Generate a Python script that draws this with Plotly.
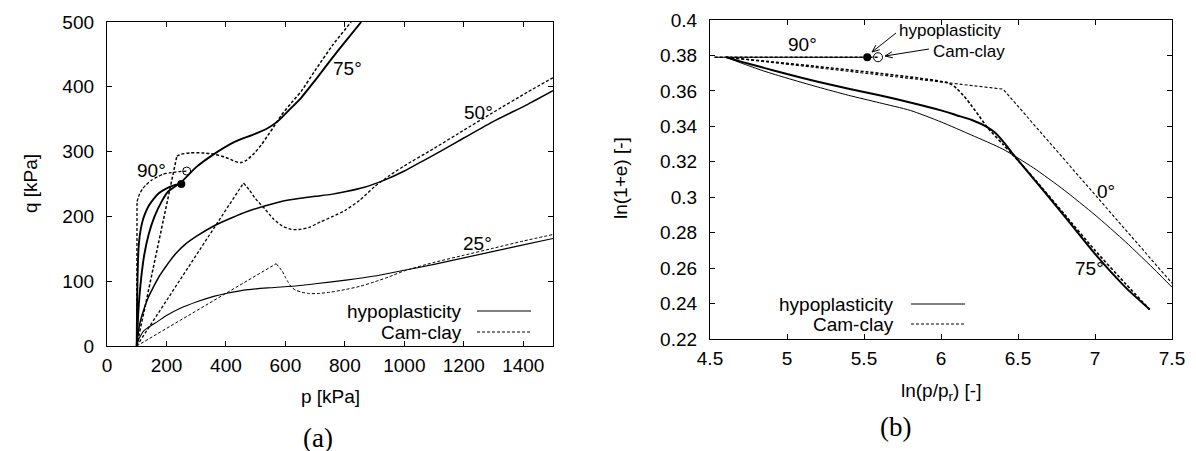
import math
import plotly.graph_objects as go

W, H = 1196, 451
def px(x): return x / W
def py(y): return 1 - y / H

# ---------------- (a) q-p data ----------------
p25_h = [100, 105, 112, 125, 150, 171, 200, 250, 300, 362, 400, 474, 550, 642, 700, 810, 900, 978, 1100, 1200, 1300, 1400, 1500]
q25_h = [0, 8, 15, 24, 32, 38, 47, 59, 68, 77, 81, 87, 90, 93, 96, 102, 108, 115, 126, 136, 146, 156, 166]
p25_c = [100, 569, 590, 600, 610, 620, 635, 655, 680, 710, 750, 800, 850, 900, 950, 1000, 1100, 1200, 1300, 1400, 1500]
q25_c = [0, 127, 115, 106, 98, 91, 86, 83, 81, 81, 83, 87, 92, 99, 107, 116, 129, 140, 151, 162, 172]

p50_h = [100, 105, 112, 121, 138, 155, 175, 194, 211, 230, 261, 300, 362, 420, 474, 530, 586, 650, 700, 754, 800, 866, 933, 1000, 1060, 1124, 1200, 1297, 1415, 1500]
q50_h = [0, 20, 38, 52, 74, 90, 107, 120, 131, 142, 156, 169, 186, 198, 208, 216, 223, 228, 231, 234, 238, 245, 256, 270, 285, 301, 321, 346, 373, 394]
p50_c = [100, 459, 480, 500, 530, 560, 590, 620, 650, 680, 720, 760, 800, 850, 900, 950, 1000, 1100, 1200, 1297, 1415, 1500]
q50_c = [0, 251.5, 240, 227, 212, 196, 185, 180, 180, 183, 192, 200, 209, 225, 246, 263, 278, 305, 333, 360, 392, 414]

p75_h = [100, 104, 108, 115, 125, 140, 160, 185, 205, 250, 300, 356, 429, 496, 540, 575, 610, 653, 700, 750, 800, 855]
q75_h = [0, 40, 70, 105, 140, 172, 200, 224, 238, 253, 276, 295, 315, 327, 336, 347, 363, 383, 410, 440, 469, 500]
p75_c = [100, 235, 250, 280, 320, 360, 400, 430, 450, 470, 496, 520, 541, 565, 586, 620, 653, 704, 760, 821]
q75_c = [0, 293, 296, 298, 298, 296, 291, 285, 283, 287, 298, 311, 325, 341, 356, 375, 393, 428, 465, 500]

p90_h = [100, 101, 103, 106, 110, 118, 127, 140, 155, 175, 199, 225, 250]
q90_h = [0, 60, 110, 150, 170, 190, 203, 216, 226, 236, 243, 248, 250]
p90_c = [100, 101, 110, 120, 132, 150, 170, 188, 210, 240, 268]
q90_c = [0, 223, 235, 243, 249, 256, 261, 265, 267, 269, 270]

# ---------------- (b) ln(1+e) - ln(p/pr) data ----------------
v0_h = [4.605, 4.7, 4.85, 5.0, 5.2, 5.4, 5.6, 5.8, 6.0, 6.2, 6.4, 6.6, 6.8, 7.0, 7.2, 7.4, 7.5]
w0_h = [0.379, 0.3758, 0.3712, 0.3672, 0.3622, 0.3575, 0.3533, 0.3490, 0.3425, 0.3350, 0.3272, 0.3166, 0.3040, 0.2900, 0.2747, 0.2580, 0.2492]
v0_c = [4.605, 6.403, 7.5]
w0_c = [0.379, 0.361, 0.2515]

v75_h = [4.605, 4.7, 4.85, 5.0, 5.2, 5.4, 5.6, 5.8, 6.0, 6.1, 6.2, 6.3, 6.35, 6.4, 6.46, 6.6, 6.8, 7.0, 7.2, 7.355]
w75_h = [0.379, 0.3765, 0.3730, 0.3695, 0.3652, 0.3612, 0.3575, 0.3535, 0.3490, 0.3463, 0.3436, 0.3396, 0.3365, 0.3318, 0.3252, 0.3105, 0.2895, 0.2680, 0.2490, 0.2367]
v75_c = [4.605, 6.05, 6.1, 6.15, 6.2, 6.25, 6.3, 6.4, 6.46, 6.6, 6.8, 7.0, 7.2, 7.355]
w75_c = [0.379, 0.3644, 0.3615, 0.3570, 0.3515, 0.3455, 0.3395, 0.3300, 0.3245, 0.3110, 0.2905, 0.2700, 0.2510, 0.2367]

v90_h = [4.53, 5.521]
w90_h = [0.379, 0.379]
v90_c = [4.53, 5.591]
w90_c = [0.379, 0.379]

xt_a = [0, 200, 400, 600, 800, 1000, 1200, 1400]
yt_a = [0, 100, 200, 300, 400, 500]
xt_b = [4.5, 5, 5.5, 6, 6.5, 7, 7.5]
xt_b_text = ["4.5", "5", "5.5", "6", "6.5", "7", "7.5"]
yt_b = [0.22, 0.24, 0.26, 0.28, 0.30, 0.32, 0.34, 0.36, 0.38, 0.40]
yt_b_text = ["0.22", "0.24", "0.26", "0.28", "0.3", "0.32", "0.34", "0.36", "0.38", "0.4"]

DASH = "3px,2px"
fig = go.Figure()

def add(x, y, xa, ya, dash, width):
    fig.add_trace(go.Scatter(x=x, y=y, mode="lines", xaxis=xa, yaxis=ya,
                             line=dict(color="black", width=width, dash=dash, shape="spline", smoothing=0.6),
                             showlegend=False, hoverinfo="skip"))

def addl(x, y, xa, ya, dash, width):
    fig.add_trace(go.Scatter(x=x, y=y, mode="lines", xaxis=xa, yaxis=ya,
                             line=dict(color="black", width=width, dash=dash),
                             showlegend=False, hoverinfo="skip"))

# (a)
add(p25_h, q25_h, "x", "y", "solid", 1.1)
addl(p25_c[:2], q25_c[:2], "x", "y", DASH, 1.0)
add(p25_c[1:], q25_c[1:], "x", "y", DASH, 1.0)
add(p50_h, q50_h, "x", "y", "solid", 1.5)
addl(p50_c[:2], q50_c[:2], "x", "y", DASH, 1.3)
add(p50_c[1:], q50_c[1:], "x", "y", DASH, 1.3)
add(p75_h, q75_h, "x", "y", "solid", 1.9)
addl(p75_c[:2], q75_c[:2], "x", "y", DASH, 1.5)
add(p75_c[1:], q75_c[1:], "x", "y", DASH, 1.5)
add(p90_h, q90_h, "x", "y", "solid", 1.9)
addl(p90_c[:2], q90_c[:2], "x", "y", DASH, 1.3)
add(p90_c[1:], q90_c[1:], "x", "y", DASH, 1.3)
fig.add_trace(go.Scatter(x=[p90_h[-1]], y=[q90_h[-1]], mode="markers", xaxis="x", yaxis="y",
                         marker=dict(color="black", size=8, symbol="circle"), showlegend=False, hoverinfo="skip"))
fig.add_trace(go.Scatter(x=[p90_c[-1]], y=[q90_c[-1]], mode="markers", xaxis="x", yaxis="y",
                         marker=dict(color="black", size=8, symbol="circle-open", line=dict(width=1)),
                         showlegend=False, hoverinfo="skip"))

# (b)
add(v0_h, w0_h, "x2", "y2", "solid", 1.0)
addl(v0_c, w0_c, "x2", "y2", DASH, 1.1)
add(v75_h, w75_h, "x2", "y2", "solid", 2.0)
add(v75_c, w75_c, "x2", "y2", DASH, 1.6)
addl(v90_c, w90_c, "x2", "y2", DASH, 1.4)
addl(v90_h, w90_h, "x2", "y2", "solid", 1.2)
fig.add_trace(go.Scatter(x=[v90_h[-1]], y=[w90_h[-1]], mode="markers", xaxis="x2", yaxis="y2",
                         marker=dict(color="black", size=8, symbol="circle"), showlegend=False, hoverinfo="skip"))
fig.add_trace(go.Scatter(x=[v90_c[-1]], y=[w90_c[-1]], mode="markers", xaxis="x2", yaxis="y2",
                         marker=dict(color="black", size=9, symbol="circle-open", line=dict(width=1)),
                         showlegend=False, hoverinfo="skip"))

FONT = "Liberation Sans, Arial, Helvetica, sans-serif"
SERIF = "Liberation Serif, DejaVu Serif, serif"

def axis(domain, rng, tv, tt=None, anchor=None, standoff=8):
    d = dict(domain=domain, range=rng, tickvals=tv, showline=True, linecolor="black", linewidth=1.3,
             mirror="ticks", ticks="inside", ticklen=5, tickwidth=1, tickcolor="black",
             showgrid=False, zeroline=False, automargin=False, anchor=anchor,
             tickfont=dict(family=FONT, size=19, color="black"),
             ticklabelstandoff=standoff, ticklabeloverflow="allow")
    if tt is not None:
        d["ticktext"] = tt
    return d

fig.update_layout(
    width=W, height=H, margin=dict(l=0, r=0, t=0, b=0),
    paper_bgcolor="white", plot_bgcolor="white", showlegend=False,
    xaxis=axis([px(99), px(545)], [0, 1500], xt_a, anchor="y", standoff=2),
    yaxis=axis([py(338), py(14)], [0, 500], yt_a, anchor="x", standoff=8),
    xaxis2=axis([px(702), px(1164)], [4.5, 7.5], xt_b, xt_b_text, anchor="y2", standoff=2),
    yaxis2=axis([py(331), py(12)], [0.21999, 0.40001], yt_b, yt_b_text, anchor="x2", standoff=8),
)

ann = []
def text(x, y, s, size=19, family=FONT, angle=0, xanchor="center"):
    ann.append(dict(x=px(x), y=py(y), xref="paper", yref="paper", text=s, showarrow=False,
                    font=dict(family=family, size=size, color="black"), textangle=angle,
                    xanchor=xanchor, yanchor="middle"))

# axis titles
text(22, 176, "q [kPa]", angle=-90)
text(322, 388, "p [kPa]")
text(310, 430, "(a)", size=27, family=SERIF)
text(612, 170, "ln(1+e) [-]", angle=-90)
text(933, 384, "ln(p/p<sub>r</sub>) [-]")
text(888, 419, "(b)", size=27, family=SERIF)

# curve labels (a)
text(143, 163, "90°")
text(339, 60, "75°")
text(470, 105, "50°")
text(469, 235, "25°")
# curve labels (b)
text(795, 36, "90°")
text(1098, 183, "0°")
text(1081, 260, "75°")

# legends
text(456, 303, "hypoplasticity", xanchor="right")
text(456, 324, "Cam-clay", xanchor="right")
text(888, 296, "hypoplasticity", xanchor="right")
text(888, 316, "Cam-clay", xanchor="right")

# pointer texts (b)
text(889, 22, "hypoplasticity", size=17, xanchor="left")
text(923, 43, "Cam-clay", size=17, xanchor="left")
fig.update_layout(annotations=ann)

shapes = []
def seg(x0, x1, y, dash):
    shapes.append(dict(type="line", xref="paper", yref="paper", x0=px(x0), x1=px(x1), y0=py(y), y1=py(y),
                       line=dict(color="black", width=1, dash=dash)))
seg(469, 523, 303, "solid")
seg(469, 523, 324, DASH)
seg(903, 957, 296, "solid")
seg(903, 957, 316, DASH)

# arrows (pixel geometry -> paper)
def arrow(tx, ty, hx, hy, L=8, ang=22):
    shapes.append(dict(type="line", xref="paper", yref="paper", x0=px(tx), y0=py(ty), x1=px(hx), y1=py(hy),
                       line=dict(color="black", width=1)))
    a = math.atan2(ty - hy, tx - hx)
    pts = []
    for s in (-1, 1):
        b = a + s * math.radians(ang)
        pts.append((hx + L * math.cos(b), hy + L * math.sin(b)))
    path = "M {} {} L {} {} L {} {}".format(px(pts[0][0]), py(pts[0][1]), px(hx), py(hy), px(pts[1][0]), py(pts[1][1]))
    shapes.append(dict(type="path", xref="paper", yref="paper", path=path, line=dict(color="black", width=1)))

arrow(888, 25, 864, 44)
arrow(921, 41, 877, 48)
fig.update_layout(shapes=shapes)

fig.write_html("out.html")
